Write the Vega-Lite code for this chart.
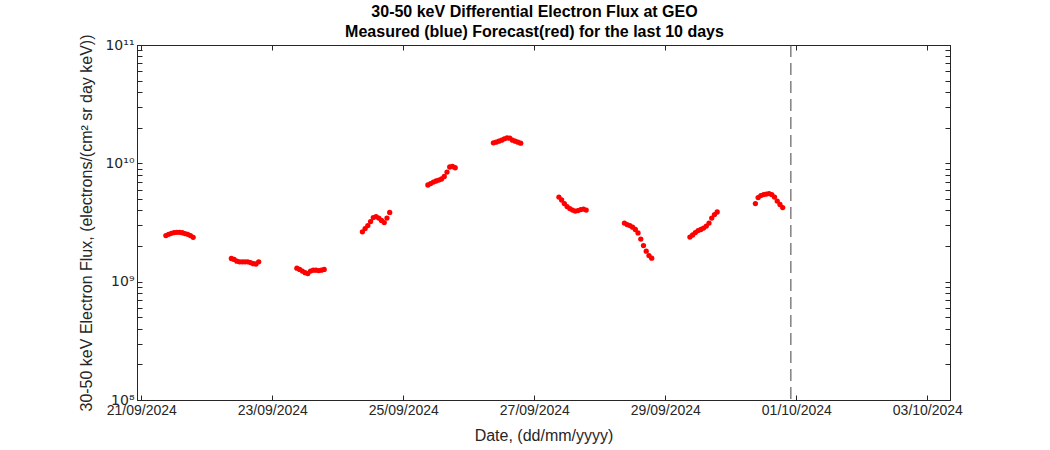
{
  "$schema": "https://vega.github.io/schema/vega-lite/v6.json",
  "width": 813,
  "height": 355,
  "autosize": {"type": "none"},
  "padding": {"left": 137, "top": 45, "right": 100, "bottom": 50},
  "background": "white",
  "title": {
    "text": ["30-50 keV Differential Electron Flux at GEO", "Measured (blue) Forecast(red) for the last 10 days"],
    "font": "Liberation Sans",
    "fontSize": 16,
    "fontWeight": "bold",
    "color": "black",
    "anchor": "middle",
    "dx": -9,
    "offset": -6,
    "lineHeight": 20
  },
  "config": {
    "view": {"stroke": "#262626", "strokeWidth": 1},
    "axis": {
      "labelFont": "Liberation Sans",
      "titleFont": "Liberation Sans",
      "labelColor": "#262626",
      "titleColor": "#262626",
      "domainColor": "#262626",
      "tickColor": "#262626",
      "grid": false,
      "labelFontSize": 14,
      "titleFontSize": 16,
      "titleFontWeight": "normal",
      "labelOverlap": false,
      "labelFlush": false
    }
  },
  "datasets": {
    "flux": [
      {"t": "2024-09-21T09:00", "v": 2.45e9}, {"t": "2024-09-21T10:00", "v": 2.51e9}, {"t": "2024-09-21T11:00", "v": 2.56e9}, {"t": "2024-09-21T12:00", "v": 2.60e9}, {"t": "2024-09-21T13:00", "v": 2.61e9}, {"t": "2024-09-21T14:00", "v": 2.61e9}, {"t": "2024-09-21T15:00", "v": 2.59e9}, {"t": "2024-09-21T16:00", "v": 2.55e9}, {"t": "2024-09-21T17:00", "v": 2.51e9}, {"t": "2024-09-21T18:00", "v": 2.45e9}, {"t": "2024-09-21T19:00", "v": 2.37e9},
      {"t": "2024-09-22T09:00", "v": 1.57e9}, {"t": "2024-09-22T10:00", "v": 1.54e9}, {"t": "2024-09-22T11:00", "v": 1.49e9}, {"t": "2024-09-22T12:00", "v": 1.47e9}, {"t": "2024-09-22T13:00", "v": 1.47e9}, {"t": "2024-09-22T14:00", "v": 1.47e9}, {"t": "2024-09-22T15:00", "v": 1.47e9}, {"t": "2024-09-22T16:00", "v": 1.45e9}, {"t": "2024-09-22T17:00", "v": 1.42e9}, {"t": "2024-09-22T18:00", "v": 1.41e9}, {"t": "2024-09-22T19:00", "v": 1.47e9},
      {"t": "2024-09-23T09:00", "v": 1.30e9}, {"t": "2024-09-23T10:00", "v": 1.27e9}, {"t": "2024-09-23T11:00", "v": 1.23e9}, {"t": "2024-09-23T12:00", "v": 1.19e9}, {"t": "2024-09-23T13:00", "v": 1.17e9}, {"t": "2024-09-23T14:00", "v": 1.23e9}, {"t": "2024-09-23T15:00", "v": 1.25e9}, {"t": "2024-09-23T16:00", "v": 1.25e9}, {"t": "2024-09-23T17:00", "v": 1.24e9}, {"t": "2024-09-23T18:00", "v": 1.25e9}, {"t": "2024-09-23T19:00", "v": 1.27e9},
      {"t": "2024-09-24T09:00", "v": 2.64e9}, {"t": "2024-09-24T10:00", "v": 2.81e9}, {"t": "2024-09-24T11:00", "v": 2.98e9}, {"t": "2024-09-24T12:00", "v": 3.22e9}, {"t": "2024-09-24T13:00", "v": 3.48e9}, {"t": "2024-09-24T14:00", "v": 3.55e9}, {"t": "2024-09-24T15:00", "v": 3.45e9}, {"t": "2024-09-24T16:00", "v": 3.29e9}, {"t": "2024-09-24T17:00", "v": 3.16e9}, {"t": "2024-09-24T18:00", "v": 3.45e9}, {"t": "2024-09-24T19:00", "v": 3.85e9},
      {"t": "2024-09-25T09:00", "v": 6.56e9}, {"t": "2024-09-25T10:00", "v": 6.75e9}, {"t": "2024-09-25T11:00", "v": 6.95e9}, {"t": "2024-09-25T12:00", "v": 7.09e9}, {"t": "2024-09-25T13:00", "v": 7.22e9}, {"t": "2024-09-25T14:00", "v": 7.37e9}, {"t": "2024-09-25T15:00", "v": 7.74e9}, {"t": "2024-09-25T16:00", "v": 8.44e9}, {"t": "2024-09-25T17:00", "v": 9.31e9}, {"t": "2024-09-25T18:00", "v": 9.40e9}, {"t": "2024-09-25T19:00", "v": 9.18e9},
      {"t": "2024-09-26T09:00", "v": 1.49e10}, {"t": "2024-09-26T10:00", "v": 1.51e10}, {"t": "2024-09-26T11:00", "v": 1.54e10}, {"t": "2024-09-26T12:00", "v": 1.57e10}, {"t": "2024-09-26T13:00", "v": 1.61e10}, {"t": "2024-09-26T14:00", "v": 1.64e10}, {"t": "2024-09-26T15:00", "v": 1.63e10}, {"t": "2024-09-26T16:00", "v": 1.57e10}, {"t": "2024-09-26T17:00", "v": 1.54e10}, {"t": "2024-09-26T18:00", "v": 1.51e10}, {"t": "2024-09-26T19:00", "v": 1.48e10},
      {"t": "2024-09-27T09:00", "v": 5.19e9}, {"t": "2024-09-27T10:00", "v": 4.90e9}, {"t": "2024-09-27T11:00", "v": 4.57e9}, {"t": "2024-09-27T12:00", "v": 4.31e9}, {"t": "2024-09-27T13:00", "v": 4.15e9}, {"t": "2024-09-27T14:00", "v": 4.03e9}, {"t": "2024-09-27T15:00", "v": 3.95e9}, {"t": "2024-09-27T16:00", "v": 3.99e9}, {"t": "2024-09-27T17:00", "v": 4.07e9}, {"t": "2024-09-27T18:00", "v": 4.11e9}, {"t": "2024-09-27T19:00", "v": 4.03e9},
      {"t": "2024-09-28T09:00", "v": 3.13e9}, {"t": "2024-09-28T10:00", "v": 3.04e9}, {"t": "2024-09-28T11:00", "v": 2.98e9}, {"t": "2024-09-28T12:00", "v": 2.89e9}, {"t": "2024-09-28T13:00", "v": 2.76e9}, {"t": "2024-09-28T14:00", "v": 2.58e9}, {"t": "2024-09-28T15:00", "v": 2.29e9}, {"t": "2024-09-28T16:00", "v": 2.02e9}, {"t": "2024-09-28T17:00", "v": 1.81e9}, {"t": "2024-09-28T18:00", "v": 1.66e9}, {"t": "2024-09-28T19:00", "v": 1.58e9},
      {"t": "2024-09-29T09:00", "v": 2.38e9}, {"t": "2024-09-29T10:00", "v": 2.48e9}, {"t": "2024-09-29T11:00", "v": 2.60e9}, {"t": "2024-09-29T12:00", "v": 2.70e9}, {"t": "2024-09-29T13:00", "v": 2.76e9}, {"t": "2024-09-29T14:00", "v": 2.84e9}, {"t": "2024-09-29T15:00", "v": 2.95e9}, {"t": "2024-09-29T16:00", "v": 3.13e9}, {"t": "2024-09-29T17:00", "v": 3.45e9}, {"t": "2024-09-29T18:00", "v": 3.69e9}, {"t": "2024-09-29T19:00", "v": 3.88e9},
      {"t": "2024-09-30T09:00", "v": 4.57e9}, {"t": "2024-09-30T10:00", "v": 5.14e9}, {"t": "2024-09-30T11:00", "v": 5.34e9}, {"t": "2024-09-30T12:00", "v": 5.45e9}, {"t": "2024-09-30T13:00", "v": 5.50e9}, {"t": "2024-09-30T14:00", "v": 5.55e9}, {"t": "2024-09-30T15:00", "v": 5.45e9}, {"t": "2024-09-30T16:00", "v": 5.19e9}, {"t": "2024-09-30T17:00", "v": 4.80e9}, {"t": "2024-09-30T18:00", "v": 4.49e9}, {"t": "2024-09-30T19:00", "v": 4.23e9}
    ],
    "now": [{"t": "2024-09-30T22:00"}]
  },
  "layer": [
    {
      "data": {"name": "now"},
      "mark": {"type": "rule", "strokeDash": [12, 6], "color": "#404040", "strokeWidth": 1},
      "encoding": {"x": {"field": "t", "type": "temporal", "axis": null}}
    },
    {
      "data": {"name": "flux"},
      "mark": {"type": "point", "filled": true, "shape": "circle", "size": 28, "color": "#ff0000", "opacity": 1},
      "encoding": {
        "x": {
          "field": "t", "type": "temporal",
          "scale": {"domain": [{"year": 2024, "month": 9, "date": 20, "hours": 22, "minutes": 25}, {"year": 2024, "month": 10, "date": 3, "hours": 8, "minutes": 18}]},
          "axis": {
            "orient": "bottom",
            "values": [{"year": 2024, "month": 9, "date": 21}, {"year": 2024, "month": 9, "date": 23}, {"year": 2024, "month": 9, "date": 25}, {"year": 2024, "month": 9, "date": 27}, {"year": 2024, "month": 9, "date": 29}, {"year": 2024, "month": 10, "date": 1}, {"year": 2024, "month": 10, "date": 3}],
            "format": "%d/%m/%Y",
            "tickSize": -5,
            "labelPadding": 8,
            "title": "Date, (dd/mm/yyyy)",
            "titlePadding": 10
          }
        },
        "y": {
          "field": "v", "type": "quantitative",
          "scale": {"type": "log", "domain": [1e8, 1e11]},
          "axis": {
            "orient": "left",
            "values": [1e8, 2e8, 3e8, 4e8, 5e8, 6e8, 7e8, 8e8, 9e8, 1e9, 2e9, 3e9, 4e9, 5e9, 6e9, 7e9, 8e9, 9e9, 1e10, 2e10, 3e10, 4e10, 5e10, 6e10, 7e10, 8e10, 9e10, 1e11],
            "labelExpr": "datum.value == 1e8 ? '10⁸' : datum.value == 1e9 ? '10⁹' : datum.value == 1e10 ? '10¹⁰' : datum.value == 1e11 ? '10¹¹' : ''",
            "labelFont": "DejaVu Sans",
            "labelFontSize": 14,
            "tickSize": -5,
            "labelPadding": 8,
            "title": "30-50 keV Electron Flux, (electrons/(cm² sr day keV))",
            "titlePadding": 10
          }
        }
      }
    },
    {
      "data": {"name": "flux"},
      "mark": {"type": "point", "opacity": 0},
      "encoding": {
        "x": {
          "field": "t", "type": "temporal",
          "axis": {
            "orient": "top",
            "values": [{"year": 2024, "month": 9, "date": 21}, {"year": 2024, "month": 9, "date": 23}, {"year": 2024, "month": 9, "date": 25}, {"year": 2024, "month": 9, "date": 27}, {"year": 2024, "month": 9, "date": 29}, {"year": 2024, "month": 10, "date": 1}, {"year": 2024, "month": 10, "date": 3}],
            "labels": false, "tickSize": -5, "title": null
          }
        },
        "y": {
          "field": "v", "type": "quantitative",
          "axis": {
            "orient": "right",
            "values": [1e8, 2e8, 3e8, 4e8, 5e8, 6e8, 7e8, 8e8, 9e8, 1e9, 2e9, 3e9, 4e9, 5e9, 6e9, 7e9, 8e9, 9e9, 1e10, 2e10, 3e10, 4e10, 5e10, 6e10, 7e10, 8e10, 9e10, 1e11],
            "labels": false, "tickSize": -5, "title": null
          }
        }
      }
    }
  ],
  "resolve": {"axis": {"x": "independent", "y": "independent"}}
}
